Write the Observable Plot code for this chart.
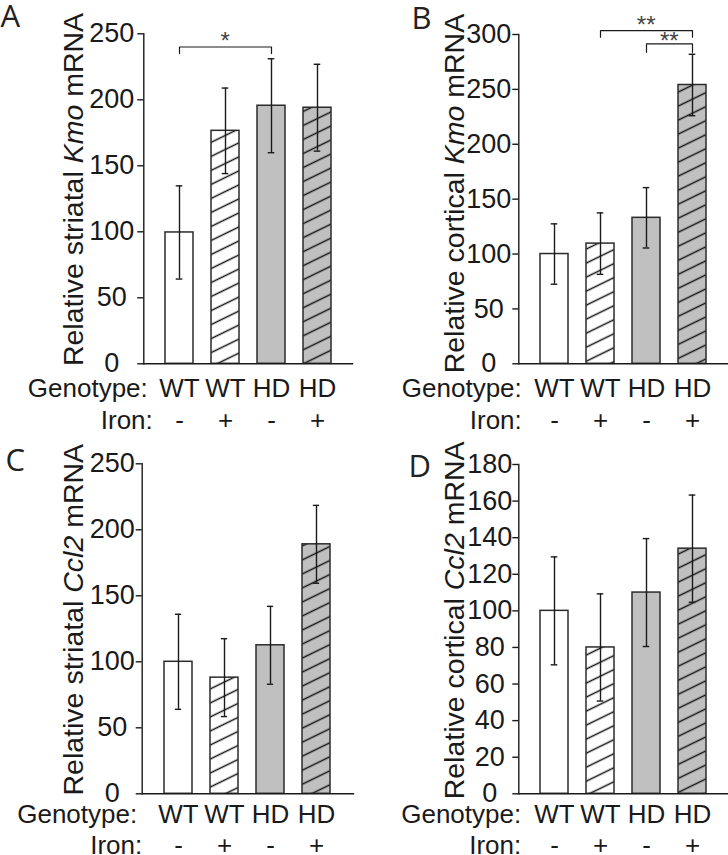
<!DOCTYPE html>
<html><head><meta charset="utf-8">
<script src="https://cdn.jsdelivr.net/npm/d3@7"></script>
<script src="https://cdn.jsdelivr.net/npm/@observablehq/plot@0.6"></script>
<style>
body{margin:0;background:#fff;}
#fig{position:relative;width:728px;height:855px;overflow:hidden;background:#fff;}
.panel{position:absolute;}
</style></head><body>
<svg width="0" height="0" style="position:absolute;left:0;top:0">
<defs>
<pattern id="hatch" patternUnits="userSpaceOnUse" width="10" height="12.6" patternTransform="rotate(-26)">
<line x1="-1" y1="6.3" x2="11" y2="6.3" stroke="#151515" stroke-width="1.5"/>
</pattern>
</defs></svg>
<div id="fig"></div>
<script>
// ---- data ----
const groups = ["WT-", "WT+", "HD-", "HD+"];
const genotype = ["WT", "WT", "HD", "HD"];
const iron = ["-", "+", "-", "+"];
const hatched = [false, true, false, true];
const grayFill = [false, false, true, true];

const kmoStriatalMean = [99.5, 176.5, 195.5, 194];
const kmoStriatalErr  = [35.3, 32.4, 35.6, 32.9];
const kmoCorticalMean = [100, 109.5, 133, 254];
const kmoCorticalErr  = [27.5, 28, 27.5, 28];
const ccl2StriatalMean = [100, 88, 112.5, 189];
const ccl2StriatalErr  = [36, 29.5, 29.5, 29.5];
const ccl2CorticalMean = [100, 80, 110, 134];
const ccl2CorticalErr  = [29.5, 29.3, 29.5, 29.3];

const yDomainA = [0, 250], yTicksA = [0, 50, 100, 150, 200, 250];
const yDomainB = [0, 300], yTicksB = [0, 50, 100, 150, 200, 250, 300];
const yDomainC = [0, 250], yTicksC = [0, 50, 100, 150, 200, 250];
const yDomainD = [0, 180], yTicksD = [0, 20, 40, 60, 80, 100, 120, 140, 160, 180];

const sigA = [{from: "WT-", to: "HD-", y: 240, leg: 235, starY: 247.4, label: "*"}];
const sigB = [
  {from: "WT+", to: "HD+", y: 303.6, leg: 297.5, starY: 312, label: "**"},
  {from: "HD-", to: "HD+", y: 291.5, leg: 283.8, starY: 297, label: "**"}
];

const labelA = ["Relative striatal ", "Kmo", " mRNA"];
const labelB = ["Relative cortical ", "Kmo", " mRNA"];
const labelC = ["Relative striatal ", "Ccl2", " mRNA"];
const labelD = ["Relative cortical ", "Ccl2", " mRNA"];

// ---- layout ----
const FONT = "'Liberation Sans', Arial, Helvetica, sans-serif";
const INK = "#1a1a1a";
const PI = 0.386, PO = 0.447;
const TICK_FS = 27, ROW_FS = 26, LAB_FS = 28.5;

const panels = [
  {letter: "A", means: kmoStriatalMean, errs: kmoStriatalErr, domain: yDomainA, ticks: yTicksA, sig: sigA, label: labelA,
   left: 0, top: 0, w: 364, h: 434, ml: 143.3, mr: 12, mt: 33.3, mb: 70.7, tp: 26,
   labDx: -61.3, labDy: -9.3, genoDy: 33, ironDy: 65, genoDx: 4, ironDx: 9, letX: 0, letB: 26},
  {letter: "B", means: kmoCorticalMean, errs: kmoCorticalErr, domain: yDomainB, ticks: yTicksB, sig: sigB, label: labelB,
   left: 364, top: 0, w: 364, h: 434, ml: 154.3, mr: 1, mt: 34, mb: 70.7, tp: 24,
   labDx: -55, labDy: -5.6, genoDy: 33, ironDy: 65, genoDx: 3, ironDx: 3, letX: 47, letB: 28},
  {letter: "C", means: ccl2StriatalMean, errs: ccl2StriatalErr, domain: yDomainC, ticks: yTicksC, sig: [], label: labelC,
   left: 0, top: 434, w: 364, h: 421, ml: 141.7, mr: 11, mt: 29.3, mb: 61.7, tp: 24,
   labDx: -59.7, labDy: -9.1, genoDy: 28.7, ironDy: 60, genoDx: -5, ironDx: 0, letX: 5, letB: 36},
  {letter: "D", means: ccl2CorticalMean, errs: ccl2CorticalErr, domain: yDomainD, ticks: yTicksD, sig: [], label: labelD,
   left: 364, top: 434, w: 364, h: 421, ml: 154.3, mr: 1, mt: 30, mb: 61.7, tp: 23,
   labDx: -55, labDy: -8.8, genoDy: 28.7, ironDy: 60, genoDx: 2.4, ironDx: 2.4, letX: 44, letB: 42.7}
];

const fig = document.getElementById("fig");

for (const p of panels) {
  const rows = groups.map((g, i) => ({
    g, mean: p.means[i], lo: p.means[i] - p.errs[i], hi: p.means[i] + p.errs[i],
    geno: genotype[i], iron: iron[i], hatched: hatched[i], gray: grayFill[i]
  }));
  const step = (p.w - p.ml - p.mr) / (groups.length - PI + 2 * PO);
  const bw = step * (1 - PI);
  const capInset = (bw - 7) / 2;
  const bracketPts = p.sig.flatMap((s, k) => [
    {x: s.from, y: s.leg, k}, {x: s.from, y: s.y, k}, {x: s.to, y: s.y, k}, {x: s.to, y: s.leg, k}
  ]);
  const starMarks = p.sig.map(s => Plot.text([s], {
    x: "to", y: "starY", text: "label",
    dx: -(groups.indexOf(s.to) - groups.indexOf(s.from)) * step / 2, dy: 4,
    fontSize: 24, fill: "#444", fontFamily: FONT, lineAnchor: "middle"
  }));

  const svg = Plot.plot({
    width: p.w, height: p.h,
    marginLeft: p.ml, marginRight: p.mr, marginTop: p.mt, marginBottom: p.mb,
    x: {type: "band", domain: groups, paddingInner: PI, paddingOuter: PO, axis: null},
    y: {domain: p.domain},
    style: {fontFamily: FONT, fontSize: TICK_FS + "px", background: "transparent", overflow: "visible", color: INK},
    marks: [
      Plot.barY(rows.filter(d => !d.gray), {x: "g", y: "mean", fill: "white"}),
      Plot.barY(rows.filter(d => d.gray), {x: "g", y: "mean", fill: "#c0c0c0"}),
      Plot.barY(rows.filter(d => d.hatched), {x: "g", y: "mean", fill: "url(#hatch)"}),
      Plot.barY(rows, {x: "g", y: "mean", fill: "none", stroke: "#2b2b2b", strokeWidth: 1.5}),
      Plot.ruleX(rows, {x: "g", y1: "lo", y2: "hi", stroke: INK, strokeWidth: 1.4}),
      Plot.tickY(rows, {x: "g", y: "hi", insetLeft: capInset, insetRight: capInset, stroke: INK, strokeWidth: 1.4}),
      Plot.tickY(rows, {x: "g", y: "lo", insetLeft: capInset, insetRight: capInset, stroke: INK, strokeWidth: 1.4}),
      Plot.frame({anchor: "left", stroke: INK, strokeWidth: 1.4}),
      Plot.frame({anchor: "bottom", stroke: INK, strokeWidth: 1.4}),
      Plot.axisY({ticks: p.ticks, tickSize: 6, tickPadding: p.tp, textAnchor: "middle", fontSize: TICK_FS,
                  label: null, stroke: INK, strokeWidth: 1.4, fill: INK, tickFormat: d => String(d)}),
      Plot.line(bracketPts, {x: "x", y: "y", z: "k", stroke: INK, strokeWidth: 1.2}),
      ...starMarks,
      Plot.text(rows, {x: "g", text: "geno", frameAnchor: "bottom", dy: p.genoDy, lineAnchor: "bottom",
                       fontSize: ROW_FS, fill: INK, fontFamily: FONT}),
      Plot.text(rows, {x: "g", text: "iron", frameAnchor: "bottom", dy: p.ironDy, lineAnchor: "bottom",
                       fontSize: ROW_FS, fill: INK, fontFamily: FONT}),
      Plot.text(["Genotype:"], {frameAnchor: "bottom-left", textAnchor: "end", lineAnchor: "bottom",
                       dx: p.genoDx, dy: p.genoDy, fontSize: ROW_FS, fill: INK, fontFamily: FONT}),
      Plot.text(["Iron:"], {frameAnchor: "bottom-left", textAnchor: "end", lineAnchor: "bottom",
                       dx: p.ironDx, dy: p.ironDy, fontSize: ROW_FS, fill: INK, fontFamily: FONT}),
      Plot.text([p.label.join("")], {frameAnchor: "left", rotate: -90, textAnchor: "middle", lineAnchor: "bottom",
                       dx: p.labDx, dy: p.labDy, fontSize: LAB_FS, fill: INK, fontFamily: FONT, className: "ylab"}),
      Plot.text([p.letter], {frameAnchor: "top-left", textAnchor: "start", lineAnchor: "bottom",
                       dx: p.letX - p.ml, dy: p.letB - p.mt, fontSize: 31, fill: "#222",
                       fontFamily: "'Open Sans', sans-serif"})
    ]
  });

  // italicise the gene name inside the y-axis label
  const t = svg.querySelector(".ylab text");
  if (t) {
    t.textContent = "";
    p.label.forEach((part, i) => {
      const ts = document.createElementNS("http://www.w3.org/2000/svg", "tspan");
      ts.textContent = part;
      if (i === 1) ts.setAttribute("font-style", "italic");
      t.appendChild(ts);
    });
  }

  const div = document.createElement("div");
  div.className = "panel";
  div.style.left = p.left + "px";
  div.style.top = p.top + "px";
  div.appendChild(svg);
  fig.appendChild(div);
}
</script>
</body></html>
